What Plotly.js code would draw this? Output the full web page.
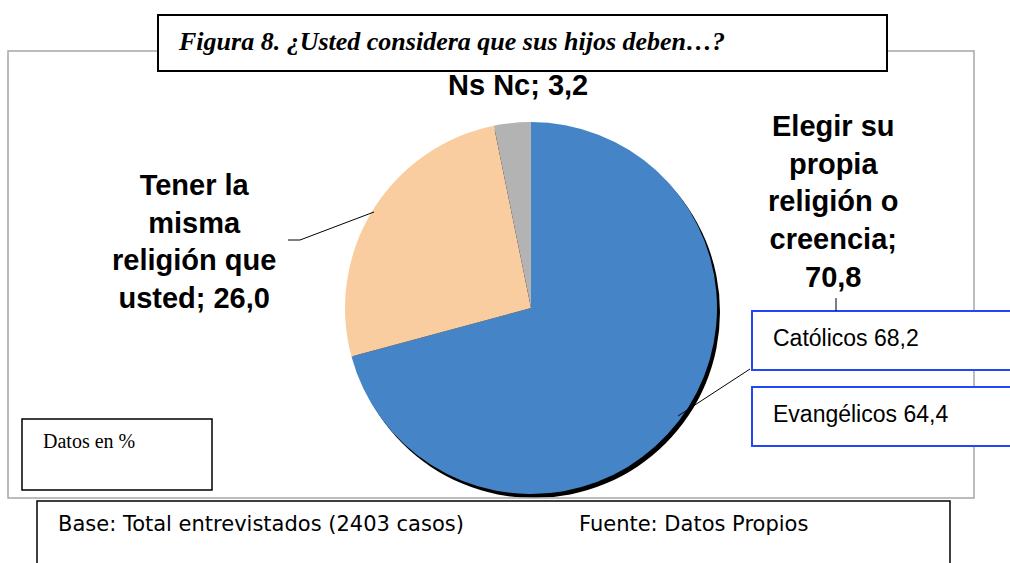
<!DOCTYPE html>
<html>
<head>
<meta charset="utf-8">
<script src="https://cdn.plot.ly/plotly-3.0.1.min.js"></script>
<style>html,body{margin:0;padding:0;background:#fff;}#chart{width:1010px;height:563px;}</style>
</head>
<body>
<div id="chart"></div>
<script>
// ---- data ----
const categories = ["Elegir su propia religión o creencia", "Tener la misma religión que usted", "Ns Nc"];
const values = [70.8, 26.0, 3.2];
const labelTexts = ["Elegir su<br>propia<br>religión o<br>creencia;<br>70,8", "Tener la<br>misma<br>religión que<br>usted; 26,0", "Ns Nc; 3,2"];
const subLabels = ["Católicos 68,2", "Evangélicos 64,4"];
const titleText = "Figura 8. ¿Usted considera que sus hijos deben…?";
const unitNote = "Datos en %";
const baseNote = "Base: Total entrevistados (2403 casos)";
const sourceNote = "Fuente: Datos Propios";
const colors = ["#4585C7", "#F9CDA0", "#B3B3B3"];

// ---- helpers (pixel -> paper) ----
const W = 1010, H = 563;
const px = x => x / W;
const py = y => 1 - y / H;

const cx = 531, cy = 308, R = 186;

const trace = {
  type: "pie",
  labels: categories,
  values: values,
  sort: false,
  direction: "clockwise",
  rotation: 0,
  textinfo: "none",
  hoverinfo: "label+value",
  marker: {colors: colors, line: {width: 0}},
  domain: {x: [px(cx - R), px(cx + R)], y: [py(cy + R), py(cy - R)]},
  showlegend: false
};

function rect(x0, y0, x1, y1, color, width, fill, layer) {
  return {type: "rect", xref: "paper", yref: "paper", x0: px(x0), x1: px(x1), y0: py(y1), y1: py(y0),
    line: {color: color, width: width}, fillcolor: fill || "rgba(0,0,0,0)", layer: layer || "above"};
}
function seg(x0, y0, x1, y1) {
  return {type: "line", xref: "paper", yref: "paper", x0: px(x0), x1: px(x1), y0: py(y0), y1: py(y1),
    line: {color: "#000", width: 1}, layer: "above"};
}

const shapes = [
  // shadow under pie
  {type: "circle", xref: "paper", yref: "paper", x0: px(cx - R + 3), x1: px(cx + R + 3), y0: py(cy + R + 4), y1: py(cy - R + 4),
   fillcolor: "#000", line: {width: 0}, layer: "below"},
  // chart area border
  rect(8, 51, 974, 498, "#A6A6A6", 1.5),
  // title box
  rect(158, 15, 887, 71, "#000", 2, "#fff"),
  // data note box
  rect(22, 419, 212, 490, "#000", 1.5, "#fff"),
  // bottom box
  rect(37, 501, 950, 575, "#000", 1.5, "#fff"),
  // sub boxes
  rect(752, 311, 1020, 370, "#2447F5", 2, "#fff"),
  rect(752, 387, 1020, 446, "#2447F5", 2, "#fff"),
  // leader lines
  seg(288, 240, 300, 240),
  seg(300, 240, 374, 212),
  seg(836, 298, 836, 311),
  seg(750, 369, 678, 416)
];

const lblFont = {family: "Liberation Sans, Arial, sans-serif", size: 29, color: "#000"};
function ann(text, x, y, xanchor, font) {
  return {text: text, xref: "paper", yref: "paper", x: px(x), y: py(y), xanchor: xanchor, yanchor: "middle",
    showarrow: false, align: "center", font: font};
}

const annotations = [
  ann("<b>" + labelTexts[0].split("<br>").join("</b><br><b>") + "</b>", 833, 202, "center", lblFont),
  ann("<b>" + labelTexts[1].split("<br>").join("</b><br><b>") + "</b>", 194, 241, "center", lblFont),
  ann("<b>" + labelTexts[2] + "</b>", 518, 85, "center", lblFont),
  ann("<b><i>" + titleText + "</i></b>", 176, 42, "left", {family: "Liberation Serif, Times New Roman, serif", size: 26, color: "#000"}),
  ann(unitNote, 41, 441, "left", {family: "Liberation Serif, Times New Roman, serif", size: 20, color: "#000"}),
  ann(subLabels[0], 771, 338, "left", {family: "Liberation Sans, Arial, sans-serif", size: 23, color: "#000"}),
  ann(subLabels[1], 771, 414, "left", {family: "Liberation Sans, Arial, sans-serif", size: 23, color: "#000"}),
  ann(baseNote, 56, 524, "left", {family: "DejaVu Sans, Verdana, sans-serif", size: 21, color: "#000"}),
  ann(sourceNote, 577, 524, "left", {family: "DejaVu Sans, Verdana, sans-serif", size: 21, color: "#000"})
];

const layout = {
  width: W, height: H,
  margin: {l: 0, r: 0, t: 0, b: 0},
  paper_bgcolor: "#fff",
  plot_bgcolor: "#fff",
  showlegend: false,
  shapes: shapes,
  annotations: annotations
};

Plotly.newPlot("chart", [trace], layout, {displayModeBar: false, staticPlot: true});
</script>
</body>
</html>
